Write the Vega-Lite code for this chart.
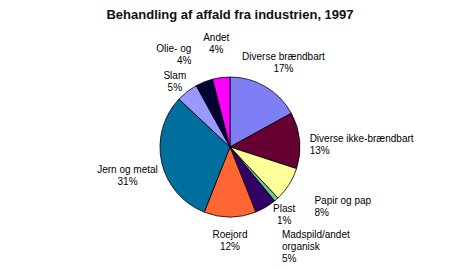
{
  "$schema": "https://vega.github.io/schema/vega-lite/v6.json",
  "autosize": {"type": "none"},
  "padding": {"top": 24, "left": 0, "right": 0, "bottom": 0},
  "width": 460,
  "height": 246,
  "background": "white",
  "title": {"text": "Behandling af affald fra industrien, 1997", "font": "Liberation Sans", "fontSize": 13, "fontWeight": "bold", "color": "#111111", "offset": 2},
  "data": {"values": [
    {"kategori": "Diverse brændbart", "pct": 17, "ord": 1, "label": "Diverse brændbart\n17%"},
    {"kategori": "Diverse ikke-brændbart", "pct": 13, "ord": 2, "label": "Diverse ikke-brændbart\n13%"},
    {"kategori": "Papir og pap", "pct": 8, "ord": 3, "label": "Papir og pap\n8%"},
    {"kategori": "Plast", "pct": 1, "ord": 4, "label": "Plast\n1%"},
    {"kategori": "Madspild/andet organisk", "pct": 5, "ord": 5, "label": "Madspild/andet\norganisk\n5%"},
    {"kategori": "Roejord", "pct": 12, "ord": 6, "label": "Roejord\n12%"},
    {"kategori": "Jern og metal", "pct": 31, "ord": 7, "label": "Jern og metal\n31%"},
    {"kategori": "Slam", "pct": 5, "ord": 8, "label": "Slam\n5%"},
    {"kategori": "Olie- og", "pct": 4, "ord": 9, "label": "Olie- og\n4%"},
    {"kategori": "Andet", "pct": 4, "ord": 10, "label": "Andet\n4%"}
  ]},
  "encoding": {
    "theta": {"field": "pct", "type": "quantitative", "stack": true},
    "order": {"field": "ord", "type": "quantitative"},
    "color": {
      "field": "kategori", "type": "nominal", "legend": null,
      "scale": {
        "domain": ["Diverse brændbart", "Diverse ikke-brændbart", "Papir og pap", "Plast", "Madspild/andet organisk", "Roejord", "Jern og metal", "Slam", "Olie- og", "Andet"],
        "range": ["#7f7ff5", "#660033", "#ffff99", "#66cc99", "#330066", "#ff6633", "#006f9e", "#9999ff", "#000033", "#ff00ff"]
      }
    }
  },
  "layer": [
    {"mark": {"type": "arc", "outerRadius": 70, "stroke": "#000000", "strokeWidth": 0.8}},
    {"mark": {"type": "text", "radius": 105, "font": "Liberation Sans", "fontSize": 10, "lineBreak": "\n", "align": "center", "baseline": "middle"},
     "encoding": {"text": {"condition": {"test": "datum.ord == 1 || datum.ord == 7", "field": "label"}, "value": ""}, "color": {"value": "#000000"}}},
    {"mark": {"type": "text", "radius": 80, "font": "Liberation Sans", "fontSize": 10, "lineBreak": "\n", "align": "left", "baseline": "middle"},
     "encoding": {"text": {"condition": {"test": "datum.ord == 2", "field": "label"}, "value": ""}, "color": {"value": "#000000"}}},
    {"mark": {"type": "text", "radius": 100, "font": "Liberation Sans", "fontSize": 10, "lineBreak": "\n", "align": "left", "baseline": "middle"},
     "encoding": {"text": {"condition": {"test": "datum.ord == 3", "field": "label"}, "value": ""}, "color": {"value": "#000000"}}},
    {"mark": {"type": "text", "radius": 82, "font": "Liberation Sans", "fontSize": 10, "lineBreak": "\n", "align": "center", "baseline": "middle"},
     "encoding": {"text": {"condition": {"test": "datum.ord == 4", "field": "label"}, "value": ""}, "color": {"value": "#000000"}}},
    {"mark": {"type": "text", "radius": 102, "font": "Liberation Sans", "fontSize": 10, "lineBreak": "\n", "align": "left", "baseline": "middle"},
     "encoding": {"text": {"condition": {"test": "datum.ord == 5", "field": "label"}, "value": ""}, "color": {"value": "#000000"}}},
    {"mark": {"type": "text", "radius": 88, "font": "Liberation Sans", "fontSize": 10, "lineBreak": "\n", "align": "center", "baseline": "middle"},
     "encoding": {"text": {"condition": {"test": "datum.ord == 6", "field": "label"}, "value": ""}, "color": {"value": "#000000"}}},
    {"mark": {"type": "text", "radius": 90, "font": "Liberation Sans", "fontSize": 10, "lineBreak": "\n", "align": "center", "baseline": "middle"},
     "encoding": {"text": {"condition": {"test": "datum.ord == 8", "field": "label"}, "value": ""}, "color": {"value": "#000000"}}},
    {"mark": {"type": "text", "radius": 105, "font": "Liberation Sans", "fontSize": 10, "lineBreak": "\n", "align": "right", "baseline": "middle"},
     "encoding": {"text": {"condition": {"test": "datum.ord == 9", "field": "label"}, "value": ""}, "color": {"value": "#000000"}}},
    {"mark": {"type": "text", "radius": 110, "font": "Liberation Sans", "fontSize": 10, "lineBreak": "\n", "align": "center", "baseline": "middle"},
     "encoding": {"text": {"condition": {"test": "datum.ord == 10", "field": "label"}, "value": ""}, "color": {"value": "#000000"}}}
  ]
}
